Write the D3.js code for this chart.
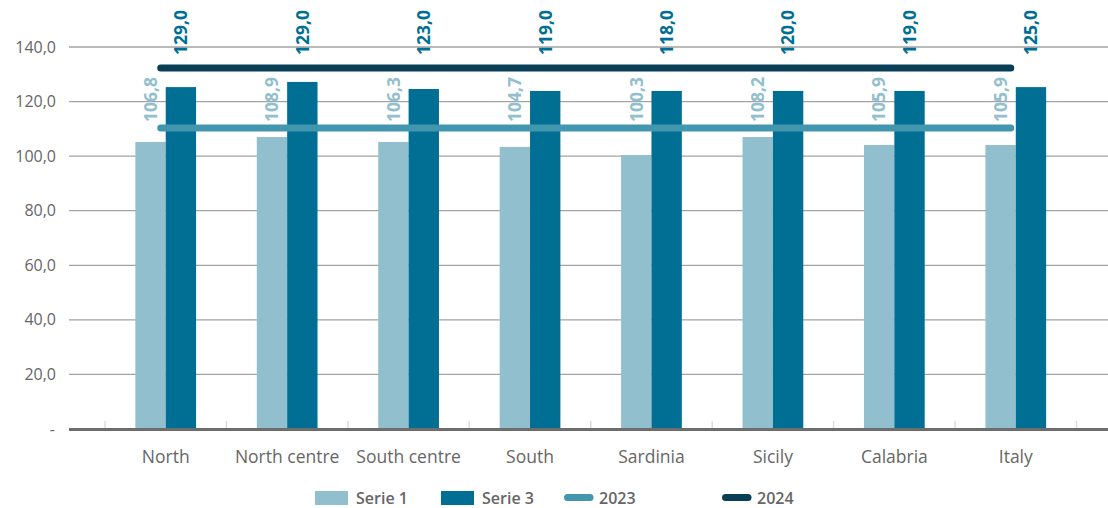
<!DOCTYPE html>
<html>
<head>
<meta charset="utf-8">
<script src="https://cdn.jsdelivr.net/npm/d3@7"></script>
<style>
  body { margin: 0; background: #fff; }
  svg { display: block; font-family: "Open Sans", Lato, sans-serif; }
</style>
</head>
<body>
<svg class="visual" width="1108" height="508"></svg>
<script>
const svg = d3.select(".visual");

// chart data
const categories = ["North", "North centre", "South centre", "South", "Sardinia", "Sicily", "Calabria", "Italy"];
const serie1 = [105.2, 107.0, 105.2, 103.4, 100.4, 107.0, 104.1, 104.1];
const serie3 = [125.3, 127.2, 124.6, 123.9, 123.9, 123.9, 123.9, 125.3];
const line2023 = [110.3, 110.3, 110.3, 110.3, 110.3, 110.3, 110.3, 110.3];
const line2024 = [132.3, 132.3, 132.3, 132.3, 132.3, 132.3, 132.3, 132.3];
const labels2023 = ["106,8", "108,9", "106,3", "104,7", "100,3", "108,2", "105,9", "105,9"];
const labels2024 = ["129,0", "129,0", "123,0", "119,0", "118,0", "120,0", "119,0", "125,0"];
const yTicks = [0, 20, 40, 60, 80, 100, 120, 140];

const colors = {
  serie1: "#92bfcd",
  serie3: "#006f93",
  l2023: "#4297ae",
  l2024: "#083f56",
  text: "#666666"
};

// plot area
const gridLeft = 69, gridRight = 1108;

const x = d3.scaleBand()
  .domain(categories)
  .range([105, 1076.5])
  .paddingInner(0.5)
  .paddingOuter(0.25);

const xSub = d3.scaleBand()
  .domain(["s1", "s3"])
  .range([0, x.bandwidth()]);

const y = d3.scaleLinear()
  .domain([0, 140])
  .range([429, 47]);

const fmt = v => v === 0 ? "-" : d3.format(".1f")(v).replace(".", ",");

// gridlines
svg.append("g")
  .selectAll("line")
  .data(yTicks.filter(d => d > 0))
  .join("line")
  .attr("x1", gridLeft)
  .attr("x2", gridRight)
  .attr("y1", d => y(d))
  .attr("y2", d => y(d))
  .attr("stroke", "#a3a3a3")
  .attr("stroke-width", 1.3);

// y axis labels
svg.append("g")
  .selectAll("text")
  .data(yTicks)
  .join("text")
  .attr("x", d => d === 0 ? 55 : 56)
  .attr("y", d => y(d))
  .attr("dy", "0.35em")
  .attr("text-anchor", "end")
  .attr("font-size", 16)
  .attr("fill", colors.text)
  .text(fmt);

// category tick marks (band edges)
const step = x.step();
const edges = d3.range(categories.length + 1).map(i => x(categories[0]) - x.paddingInner() * step / 2 + i * step);
svg.append("g")
  .selectAll("line")
  .data(edges)
  .join("line")
  .attr("x1", d => d)
  .attr("x2", d => d)
  .attr("y1", y(0) - 8)
  .attr("y2", y(0))
  .attr("stroke", "#dcdcdc")
  .attr("stroke-width", 1.5);

// bars
const bars = svg.append("g");
bars.selectAll(".b1")
  .data(serie1)
  .join("rect")
  .attr("class", "b1")
  .attr("x", (d, i) => x(categories[i]) + xSub("s1"))
  .attr("width", xSub.bandwidth())
  .attr("y", d => y(d))
  .attr("height", d => y(0) - y(d))
  .attr("fill", colors.serie1);

bars.selectAll(".b3")
  .data(serie3)
  .join("rect")
  .attr("class", "b3")
  .attr("x", (d, i) => x(categories[i]) + xSub("s3"))
  .attr("width", xSub.bandwidth())
  .attr("y", d => y(d))
  .attr("height", d => y(0) - y(d))
  .attr("fill", colors.serie3);

// axis line
svg.append("line")
  .attr("x1", gridLeft)
  .attr("x2", gridRight)
  .attr("y1", y(0) + 0.5)
  .attr("y2", y(0) + 0.5)
  .attr("stroke", "#6d6d6d")
  .attr("stroke-width", 3);

// x labels
svg.append("g")
  .selectAll("text")
  .data(categories)
  .join("text")
  .attr("x", d => x(d) + x.bandwidth() / 2)
  .attr("y", 463)
  .attr("text-anchor", "middle")
  .attr("font-size", 17.5)
  .attr("fill", colors.text)
  .text(d => d);

// horizontal lines
const line = d3.line()
  .x((d, i) => x(categories[i]) + x.bandwidth() / 2 - 5)
  .y(d => y(d));

svg.append("path")
  .datum(line2023)
  .attr("d", line)
  .attr("fill", "none")
  .attr("stroke", colors.l2023)
  .attr("stroke-width", 7)
  .attr("stroke-linecap", "round");

svg.append("path")
  .datum(line2024)
  .attr("d", line)
  .attr("fill", "none")
  .attr("stroke", colors.l2024)
  .attr("stroke-width", 7)
  .attr("stroke-linecap", "round");

// data labels, rotated
function addLabels(data, vals, sub, offset, color) {
  svg.append("g")
    .selectAll("text")
    .data(data)
    .join("text")
    .attr("transform", (d, i) => {
      const cx = x(categories[i]) + xSub(sub) + xSub.bandwidth() / 2;
      const cy = y(vals[i]) - offset;
      return `translate(${cx},${cy}) rotate(-90)`;
    })
    .attr("dy", "0.36em")
    .attr("font-size", 17.5)
    .attr("font-weight", 700)
    .attr("fill", color)
    .text(d => d);
}
addLabels(labels2023, line2023, "s1", 6, colors.serie1);
addLabels(labels2024, line2024, "s3", 13, colors.serie3);

// legend
const legend = svg.append("g").attr("font-size", 16).attr("font-weight", 600).attr("fill", colors.text);
const legendItems = [
  {name: "Serie 1", type: "rect", color: colors.serie1, x: 315},
  {name: "Serie 3", type: "rect", color: colors.serie3, x: 441},
  {name: "2023", type: "line", color: colors.l2023, x: 564},
  {name: "2024", type: "line", color: colors.l2024, x: 722}
];
legendItems.forEach(it => {
  if (it.type === "rect") {
    legend.append("rect")
      .attr("x", it.x).attr("y", 491)
      .attr("width", 33).attr("height", 14)
      .attr("fill", it.color);
  } else {
    legend.append("line")
      .attr("x1", it.x + 3.5).attr("x2", it.x + 26)
      .attr("y1", 497.5).attr("y2", 497.5)
      .attr("stroke", it.color)
      .attr("stroke-width", 7)
      .attr("stroke-linecap", "round");
  }
  legend.append("text")
    .attr("x", it.type === "rect" ? it.x + 41 : it.x + 35)
    .attr("y", 498)
    .attr("dy", "0.35em")
    .text(it.name);
});
</script>
</body>
</html>
